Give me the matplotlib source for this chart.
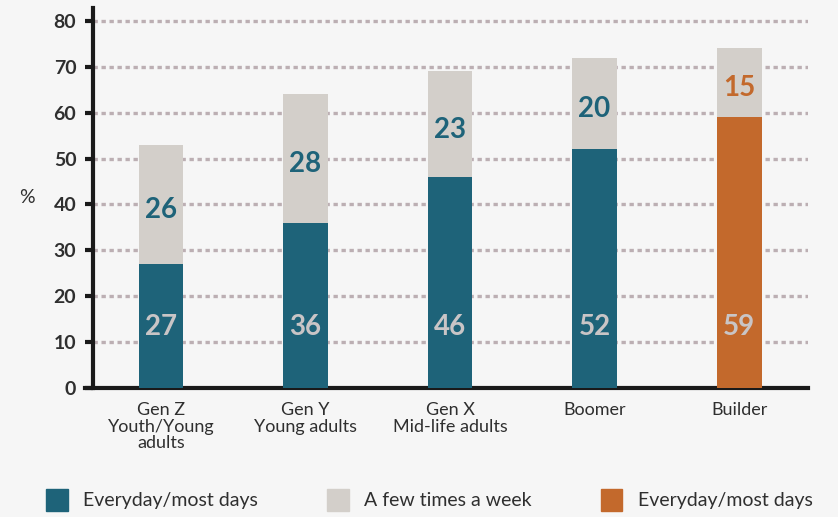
from pathlib import Path

import matplotlib

matplotlib.use("Agg")
import matplotlib.pyplot as plt
from matplotlib.patches import Patch

categories = ["Gen Z\nYouth/Young\nadults", "Gen Y\nYoung adults", "Gen X\nMid-life adults", "Boomer", "Builder"]
everyday = [27, 36, 46, 52, 59]
few_times = [26, 28, 23, 20, 15]
y_ticks = [0, 10, 20, 30, 40, 50, 60, 70, 80]
legend_labels = ["Everyday/most days", "A few times a week", "Everyday/most days"]

TEAL = "#1E6379"
GREY = "#D3CFCA"
ORANGE = "#C3692C"
BG = "#F6F6F6"
INK = "#2F2F2F"


def write_generation_chart(output_path: Path) -> None:
    plt.rcParams["font.family"] = ["Lato", "DejaVu Sans"]

    fig = plt.figure(figsize=(8.38, 5.17), dpi=100, facecolor=BG)
    ax = fig.add_axes([0.111, 0.2495, 0.853, 0.735], facecolor=BG)

    x = list(range(len(categories)))
    base_colors = [TEAL] * (len(categories) - 1) + [ORANGE]
    top_text_colors = [TEAL] * (len(categories) - 1) + [ORANGE]

    bottom = ax.bar(x, everyday, width=0.31, color=base_colors, zorder=3)
    top = ax.bar(x, few_times, width=0.31, bottom=everyday, color=GREY, zorder=3)

    for rect, value in zip(bottom, everyday):
        ax.text(rect.get_x() + rect.get_width() / 2, 13.3, str(value),
                ha="center", va="center", fontsize=20, fontweight="bold",
                color="#C9C5C6", zorder=4)
    for rect, value, base, color in zip(top, few_times, everyday, top_text_colors):
        ax.text(rect.get_x() + rect.get_width() / 2, base + value / 2 - 1.2, str(value),
                ha="center", va="center", fontsize=20, fontweight="bold",
                color=color, zorder=4)

    ax.set_xlim(-0.47, 4.475)
    ax.set_ylim(0, 82.8)
    ax.set_yticks(y_ticks)
    ax.set_yticklabels([str(t) for t in y_ticks], fontsize=14, fontweight="bold", color=INK)
    ax.set_xticks(x)
    ax.set_xticklabels(categories, fontsize=13, color=INK, linespacing=1.05)
    ax.tick_params(axis="x", length=0, pad=10)
    ax.tick_params(axis="y", length=6, width=3, color="#1A1A1A", pad=6)

    ax.set_ylabel("%", rotation=0, fontsize=14, color=INK)
    ax.yaxis.set_label_coords(-0.092, 0.48)

    ax.yaxis.grid(True, linestyle=(0, (1.3, 1.1)), linewidth=2.4, color="#BCAFB3")
    ax.set_axisbelow(True)

    for side in ["top", "right"]:
        ax.spines[side].set_visible(False)
    ax.spines["left"].set_linewidth(3)
    ax.spines["left"].set_color("#1A1A1A")
    ax.spines["bottom"].set_linewidth(3)
    ax.spines["bottom"].set_color("#1A1A1A")
    ax.spines["bottom"].set_bounds(-0.525, 4.475)

    handles = [Patch(color=TEAL), Patch(color=GREY), Patch(color=ORANGE)]
    fig.legend(handles, legend_labels, loc="center", bbox_to_anchor=(0.5125, 0.033),
               ncol=3, frameon=False, fontsize=14, handlelength=1.1, handleheight=1.3,
               handletextpad=0.8, columnspacing=3.55, labelcolor=INK)

    fig.savefig(output_path, dpi=100, facecolor=BG)
    plt.close(fig)


write_generation_chart(Path("out.png"))
